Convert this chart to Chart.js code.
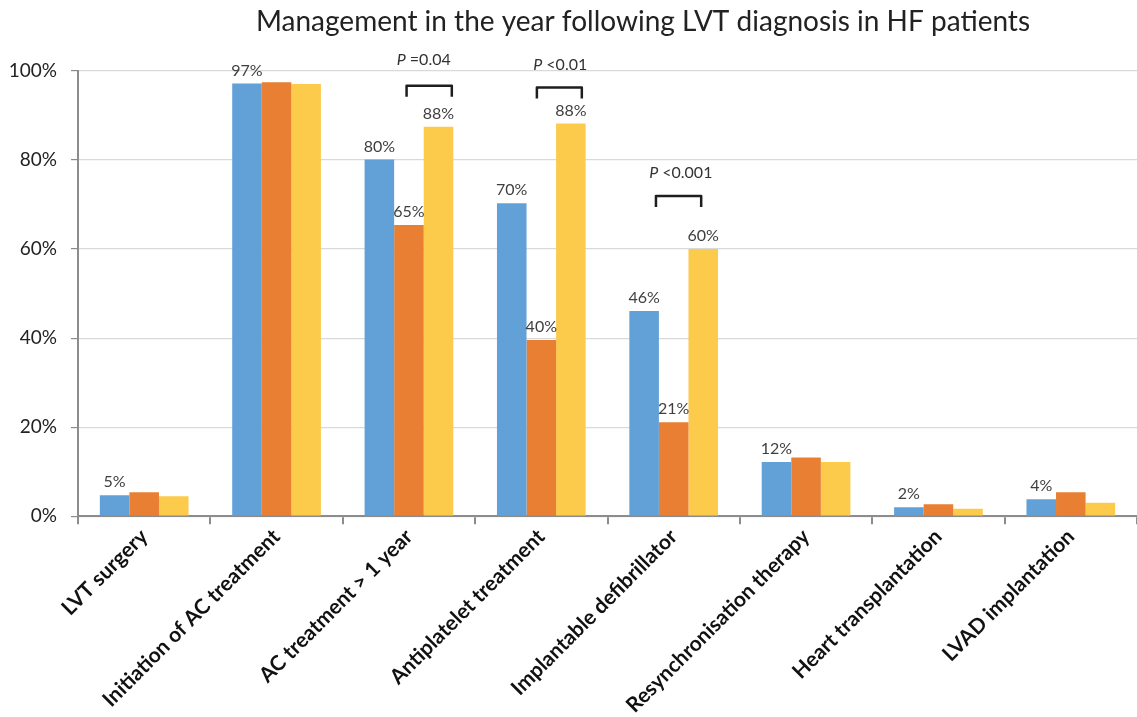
<!DOCTYPE html>
<html><head><meta charset="utf-8">
<script src="https://cdn.jsdelivr.net/npm/chart.js@4"></script>
<style>html,body{margin:0;padding:0;background:#fff}#wrap{width:1137px;height:717px;position:relative}</style>
</head><body><div id="wrap"><canvas id="c"></canvas></div>
<script>
const categories = ['LVT surgery','Initiation of AC treatment','AC treatment > 1 year','Antiplatelet treatment','Implantable defibrillator','Resynchronisation therapy','Heart transplantation','LVAD implantation'];
const seriesA = [4.7, 97.2, 80.1, 70.3, 46.1, 12.2, 2.0, 3.8];
const seriesB = [5.4, 97.5, 65.4, 39.6, 21.1, 13.2, 2.7, 5.4];
const seriesC = [4.5, 97.1, 87.5, 88.2, 60.0, 12.2, 1.7, 3.0];
const labelsA = ['5%','97%','80%','70%','46%','12%','2%','4%'];
const labelsB = ['','','65%','40%','21%','','',''];
const labelsC = ['','','88%','88%','60%','','',''];
const yTicks = [0, 20, 40, 60, 80, 100];
const pCats = [2, 3, 4];
const pTexts = [' =0.04', ' <0.01', ' <0.001'];
const titleText = 'Management in the year following LVT diagnosis in HF patients';

// annotation placement (style, not data)
const bracketStyle = [
  {top: 96.7, x0: -0.08, x1: 1.45, textY: 102.4, textDx: 0.5},
  {top: 96.3, x0: -0.15, x1: 1.37, textY: 101.4, textDx: 0.64},
  {top: 71.9, x0: -0.6, x1: 0.93, textY: 77.1, textDx: 0.24}
];
const FONT = 'Lato, "Open Sans", sans-serif';

const annotatePlugin = {
  id: 'annot',
  afterDatasetsDraw(chart) {
    const ctx = chart.ctx;
    const y = chart.scales.y, x = chart.scales.x;
    ctx.save();
    const lab = [labelsA, labelsB, labelsC];
    ctx.font = '16px ' + FONT;
    ctx.fillStyle = '#404040';
    ctx.textAlign = 'center';
    ctx.textBaseline = 'middle';
    lab.forEach((arr, di) => {
      const meta = chart.getDatasetMeta(di);
      arr.forEach((t, i) => {
        if (!t) return;
        const el = meta.data[i];
        ctx.fillText(t, el.x, el.y - 13);
      });
    });
    const bw = chart.getDatasetMeta(0).data[0].width;
    pCats.forEach((c, k) => {
      const s = bracketStyle[k];
      const cx = x.getPixelForValue(c);
      const xa = cx + s.x0 * bw, xb = cx + s.x1 * bw;
      const yt = y.getPixelForValue(s.top);
      ctx.strokeStyle = '#1e1e1e';
      ctx.lineWidth = 2.5;
      ctx.lineJoin = 'round';
      ctx.beginPath();
      ctx.moveTo(xa, yt + 11);
      ctx.lineTo(xa, yt);
      ctx.lineTo(xb, yt);
      ctx.lineTo(xb, yt + 11);
      ctx.stroke();
      const tx = cx + s.textDx * bw, ty = y.getPixelForValue(s.textY);
      ctx.font = 'italic 16px ' + FONT;
      const wP = ctx.measureText('P').width;
      ctx.font = '16px ' + FONT;
      const wR = ctx.measureText(pTexts[k]).width;
      const x0 = tx - (wP + wR) / 2;
      ctx.textAlign = 'left';
      ctx.fillStyle = '#333';
      ctx.font = 'italic 16px ' + FONT;
      ctx.fillText('P', x0, ty);
      ctx.font = '16px ' + FONT;
      ctx.fillText(pTexts[k], x0 + wP, ty);
    });
    ctx.font = '28px ' + FONT;
    ctx.fillStyle = '#222';
    ctx.textAlign = 'center';
    ctx.textBaseline = 'middle';
    ctx.fillText(titleText, 643, 22);
    ctx.restore();
  }
};

new Chart(document.getElementById('c'), {
  type: 'bar',
  data: {
    labels: categories,
    datasets: [
      {label: 'Group 1', data: seriesA, backgroundColor: '#62A0D8'},
      {label: 'Group 2', data: seriesB, backgroundColor: '#E97F32'},
      {label: 'Group 3', data: seriesC, backgroundColor: '#FCCB4C'}
    ]
  },
  options: {
    responsive: true,
    maintainAspectRatio: false,
    animation: false,
    layout: {padding: {top: 71, right: 0, left: 0, bottom: -1}},
    datasets: {bar: {categoryPercentage: 0.67, barPercentage: 1.0, borderWidth: 0}},
    plugins: {legend: {display: false}, tooltip: {enabled: false}, title: {display: false}},
    scales: {
      x: {
        grid: {offset: true, drawOnChartArea: false, tickLength: 8, tickColor: '#8c8c8c', lineWidth: 2},
        border: {color: '#8c8c8c', width: 2},
        ticks: {maxRotation: 45, minRotation: 45, color: '#111', padding: 0, font: {family: FONT, size: 21, weight: 'bold'}}
      },
      y: {
        min: 0, max: 100,
        afterBuildTicks(axis) { axis.ticks = yTicks.map(v => ({value: v})); },
        afterFit(axis) { axis.width = 78; },
        grid: {color: '#d9d9d9', lineWidth: 1.2, tickLength: 7, tickColor: '#8c8c8c'},
        border: {color: '#8c8c8c', width: 2},
        ticks: {color: '#222', padding: 14, font: {family: FONT, size: 19}, callback: v => v + '%'}
      }
    }
  },
  plugins: [annotatePlugin]
});
</script>
</body></html>
